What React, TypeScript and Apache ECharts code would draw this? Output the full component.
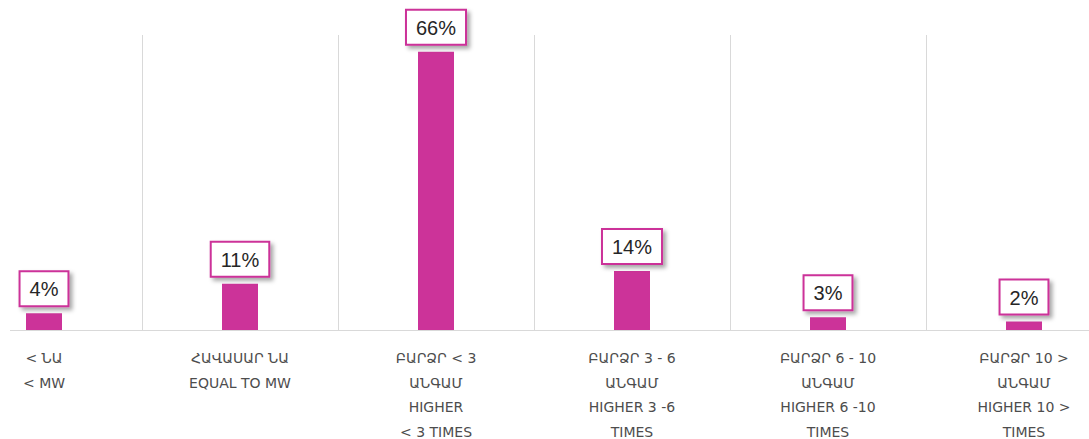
import React, { useEffect, useRef } from "react";
import * as echarts from "echarts";

const categories: string[] = [
  "< ՆԱ\n< MW",
  "ՀԱՎԱՍԱՐ ՆԱ\nEQUAL TO MW",
  "ԲԱՐՁՐ < 3\nԱՆԳԱՄ\nHIGHER\n< 3 TIMES",
  "ԲԱՐՁՐ 3 - 6\nԱՆԳԱՄ\nHIGHER 3 -6\nTIMES",
  "ԲԱՐՁՐ 6 - 10\nԱՆԳԱՄ\nHIGHER 6 -10\nTIMES",
  "ԲԱՐՁՐ 10 >\nԱՆԳԱՄ\nHIGHER 10 >\nTIMES",
];
const values: number[] = [4, 11, 66, 14, 3, 2];
const yMax = 70;

export default function App() {
  const ref = useRef<HTMLDivElement>(null);
  useEffect(() => {
    if (!ref.current) return;
    const chart = echarts.init(ref.current, undefined, { renderer: "svg" });
    chart.setOption({
      animation: false,
      grid: {
        left: 0,
        right: 0,
        top: 35,
        bottom: 109,
        containLabel: false,
        outerBoundsMode: "none",
      },
      xAxis: {
        type: "category",
        data: categories,
        axisLine: { lineStyle: { color: "#d9d9d9", width: 1 } },
        axisTick: { show: false },
        splitLine: { show: true, lineStyle: { color: "#d9d9d9", width: 1 } },
        axisLabel: {
          interval: 0,
          margin: 16,
          color: "#4d4d4d",
          fontSize: 14,
          lineHeight: 24.5,
          fontFamily: "DejaVu Sans",
        },
      },
      yAxis: {
        type: "value",
        min: 0,
        max: yMax,
        show: false,
        splitLine: { show: false },
      },
      series: [
        {
          type: "bar",
          data: values,
          barWidth: 36,
          itemStyle: { color: "#cc3399" },
          label: {
            show: true,
            position: "top",
            distance: 8,
            formatter: "{c}%",
            fontFamily: "Liberation Sans",
            fontSize: 20,
            color: "#262626",
            backgroundColor: "#ffffff",
            borderColor: "#cc3399",
            borderWidth: 2,
            padding: [7, 9, 6, 9],
            shadowColor: "rgba(0,0,0,0.35)",
            shadowBlur: 4,
            shadowOffsetX: 3,
            shadowOffsetY: 3,
          },
        },
      ],
    });
    return () => chart.dispose();
  }, []);
  return (
    <div
      style={{
        position: "absolute",
        left: 0,
        top: 0,
        width: 1089,
        height: 439,
        overflow: "hidden",
        background: "#ffffff",
      }}
    >
      <div
        style={{
          position: "absolute",
          left: 10,
          top: 0,
          width: 1079,
          height: 439,
          overflow: "hidden",
        }}
      >
        <div
          ref={ref}
          style={{ position: "absolute", left: -64, top: 0, width: 1176, height: 439 }}
        />
      </div>
    </div>
  );
}
